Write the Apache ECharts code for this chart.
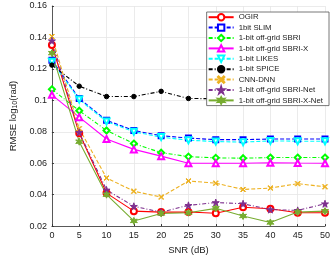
<!DOCTYPE html>
<html><head><meta charset="utf-8">
<script src="https://cdn.jsdelivr.net/npm/echarts@6/dist/echarts.min.js"></script>
<style>html,body{margin:0;padding:0;background:#fff}#c{width:333px;height:260px}</style>
</head><body><div id="c"></div>
<script>
const snr = [0,5,10,15,20,25,30,35,40,45,50];
const yTicks = [0.02,0.04,0.06,0.08,0.1,0.12,0.14,0.16];
const names = ['OGIR','1bit SLIM','1-bit off-grid SBRI','1-bit off-grid SBRI-X','1-bit LIKES','1-bit SPICE','CNN-DNN','1-bit off-grid SBRI-Net','1-bit off-grid SBRI-X-Net'];
const ogir     = [0.1352,0.0790,0.0410,0.0295,0.0289,0.0290,0.0282,0.0320,0.0310,0.0285,0.0285];
const slim     = [0.1255,0.1012,0.0873,0.0808,0.0775,0.0760,0.0750,0.0750,0.0754,0.0754,0.0754];
const sbri     = [0.1070,0.0934,0.0808,0.0725,0.0667,0.0642,0.0634,0.0632,0.0636,0.0636,0.0636];
const sbriX    = [0.1035,0.0893,0.0754,0.0688,0.0645,0.0600,0.0600,0.0600,0.0603,0.0601,0.0600];
const likes    = [0.1245,0.1005,0.0865,0.0800,0.0766,0.0746,0.0738,0.0734,0.0742,0.0740,0.0740];
const spice    = [0.1224,0.1090,0.1024,0.1024,0.1057,0.1012,0.1010,0.0993,0.1013,0.1010,0.1026];
const cnnDnn   = [0.1406,0.0820,0.0506,0.0422,0.0385,0.0487,0.0473,0.0433,0.0442,0.0470,0.0450];
const sbriNet  = [0.1379,0.0796,0.0430,0.0326,0.0289,0.0332,0.0350,0.0342,0.0305,0.0300,0.0342];
const sbriXNet = [0.1300,0.0737,0.0400,0.0233,0.0280,0.0285,0.0313,0.0264,0.0223,0.0289,0.0295];

const STAR5 = 'path://M50,0L61,35L98,35L68,57L79,91L50,70L21,91L32,57L2,35L39,35Z';
const STAR6 = 'path://M50,0L62,29L93,25L74,50L93,75L62,71L50,100L38,71L7,75L26,50L7,25L38,29Z';
const XMARK = 'path://M0,1L1,0L5,4L9,0L10,1L6,5L10,9L9,10L5,6L1,10L0,9L4,5Z';

const pair = a => snr.map((x,i)=>[x,a[i]]);
function ser(name, data, color, dash, symbol, size, opts){
  return Object.assign({
    name, type:'line', data: pair(data), symbol, symbolSize: size,
    lineStyle:{color, width:1.1, type: dash},
    itemStyle:{color, borderColor: color, borderWidth:1},
    showAllSymbol:true, animation:false
  }, opts||{});
}
const series = [
  ser(names[0], ogir, '#ff0000', 'solid', 'emptyCircle', 6),
  ser(names[1], slim, '#0000ff', [4,2], 'emptyRect', 5),
  ser(names[2], sbri, '#00ff00', [4,2,1,2], 'emptyDiamond', 6),
  ser(names[3], sbriX, '#ff00ff', 'solid', 'emptyTriangle', 6),
  ser(names[4], likes, '#00ffff', [4,2], 'emptyTriangle', 6, {symbolRotate:180}),
  ser(names[5], spice, '#000000', [4,2,1,2], 'circle', 4.5),
  ser(names[6], cnnDnn, '#EDB120', [4,2], XMARK, 5),
  ser(names[7], sbriNet, '#7E2F8E', [4,2,1,2], STAR5, 7),
  ser(names[8], sbriXNet, '#77AC30', 'solid', STAR6, 7)
];

const chart = echarts.init(document.getElementById('c'), null, {renderer:'canvas'});
chart.setOption({
  animation:false,
  backgroundColor:'#fff',
  textStyle:{fontFamily:'Liberation Sans, Arial, sans-serif'},
  grid:{left:38, right:5, top:6, bottom:28},
  legend:{
    data: names, orient:'vertical', right:4, top:12,
    itemWidth:25, itemHeight:8, itemGap:2,
    padding:[1,6,1,1],
    backgroundColor:'#fff', borderColor:'#555', borderWidth:0.8,
    textStyle:{fontSize:7.8, color:'#222', fontFamily:'Liberation Sans, Arial, sans-serif'}
  },
  xAxis:{
    type:'value', min:0, max:50, interval:5,
    name:'SNR (dB)', nameLocation:'middle', nameGap:16,
    nameTextStyle:{fontSize:9.5, color:'#222'},
    axisLine:{lineStyle:{color:'#333', width:0.8}},
    axisTick:{inside:true, length:2, lineStyle:{color:'#333'}},
    axisLabel:{fontSize:9, color:'#222', margin:5},
    splitLine:{show:true, lineStyle:{color:'#e6e6e6', width:0.8}}
  },
  yAxis:{
    type:'value', min:yTicks[0], max:yTicks[yTicks.length-1], interval:0.02,
    name:'RMSE log{s|10}(rad)', nameLocation:'middle', nameGap:28, nameRotate:90,
    nameTextStyle:{fontSize:9.5, color:'#222', rich:{s:{fontSize:7, verticalAlign:'bottom', padding:[4,0,0,0]}}},
    axisLine:{show:true, lineStyle:{color:'#333', width:0.8}},
    axisTick:{show:true, inside:true, length:2, lineStyle:{color:'#333'}},
    axisLabel:{fontSize:9, color:'#222', margin:5, formatter: v => String(parseFloat(v.toFixed(2)))},
    splitLine:{show:true, lineStyle:{color:'#e6e6e6', width:0.8}}
  },
  series
});
</script></body></html>
